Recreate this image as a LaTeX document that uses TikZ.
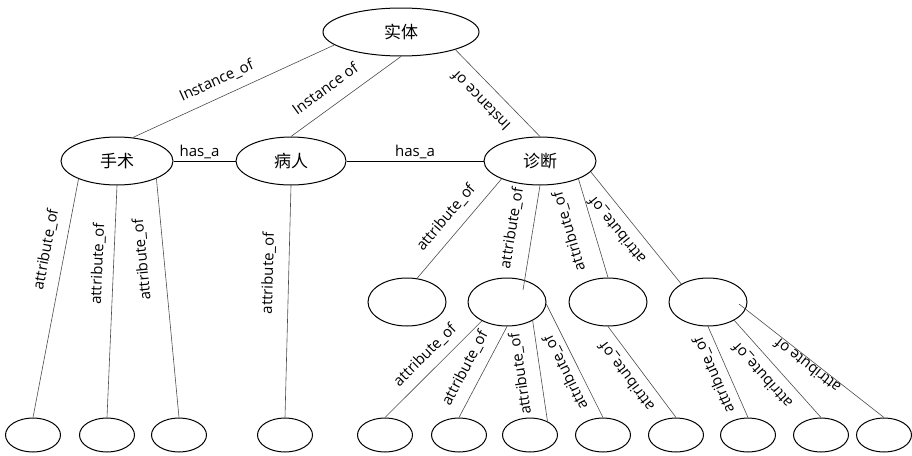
\documentclass[tikz,border=0pt]{standalone}
\usepackage{fontspec}
\setmainfont{Open Sans}
\newfontfamily\cjk{Noto Sans CJK SC}
\usetikzlibrary{shapes.geometric}
\tikzset{
  big/.style={ellipse, draw=black, line width=1pt, inner sep=0pt, minimum width=112pt, minimum height=48pt, font=\cjk\fontsize{17}{20}\selectfont},
  mid/.style={ellipse, draw=black, line width=1pt, inner sep=0pt, minimum width=78pt, minimum height=48pt},
  leaf/.style={ellipse, draw=black, line width=1pt, inner sep=0pt, minimum width=55pt, minimum height=34pt},
  edge/.style={draw=black!70, line width=0.6pt},
  rel/.style={draw=black, line width=0.9pt},
  lab/.style={sloped, allow upside down, inner sep=0pt, anchor=center, text=black, font=\fontsize{15}{18}\selectfont}
}
\begin{document}
\begin{tikzpicture}[x=1pt, y=-1pt]
\useasboundingbox (0,0) rectangle (912,455);
% top levels
\node[big, minimum width=156pt] (shiti) at (401,32) {实体};
\node[big] (shoushu) at (117,161) {手术};
\node[big, minimum width=110pt] (bingren) at (291,161) {病人};
\node[big] (zhenduan) at (540,161) {诊断};
% middle level
\node[mid] (m1) at (407,302) {};
\node[mid] (m2) at (507,302) {};
\node[mid] (m3) at (608,302) {};
\node[mid] (m4) at (708,302) {};
% leaves
\node[leaf] (b1) at (33,435) {};
\node[leaf] (b2) at (107,435) {};
\node[leaf] (b3) at (179,435) {};
\node[leaf] (b4) at (285,435) {};
\node[leaf] (b5) at (385,435) {};
\node[leaf] (b6) at (459,435) {};
\node[leaf] (b7) at (530,435) {};
\node[leaf] (b8) at (603,435) {};
\node[leaf] (b9) at (676,435) {};
\node[leaf] (b10) at (748,435) {};
\node[leaf] (b11) at (821,435) {};
\node[leaf] (b12) at (884,435) {};
% instance edges
\draw[edge] (shoushu.56) -- node[lab,pos=.45,yshift=16.5pt]{Instance\_of} (shiti.191);
\draw[edge] (bingren.north) -- node[lab,pos=.41,yshift=19pt]{Instance of} (shiti.south);
\draw[edge] (zhenduan.north) -- node[lab,pos=.55,yshift=17.8pt]{Instance of} (shiti.-18);
% has_a
\draw[rel] (shoushu.east) -- node[lab,pos=.42,yshift=9pt]{has\_a} (bingren.west);
\draw[rel] (bingren.east) -- node[lab,pos=.5,yshift=9pt]{has\_a} (zhenduan.west);
% shoushu / bingren attributes
\draw[edge] (b1.north) -- node[lab,pos=.69,yshift=18.6pt]{attribute\_of} (shoushu.205);
\draw[edge] (b2.north) -- node[lab,pos=.66,yshift=15.6pt]{attribute\_of} (shoushu.south);
\draw[edge] (b3.north) -- node[lab,pos=.67,yshift=21.8pt]{attribute\_of} (shoushu.-24);
\draw[edge] (b4.north) -- node[lab,pos=.62,yshift=20.3pt]{attribute\_of} (bingren.south);
% zhenduan attributes
\draw[edge] (m1.67) -- node[lab,pos=.5,yshift=17.4pt]{attribute\_of} (zhenduan.205);
\draw[edge] ([xshift=16pt,yshift=12pt]m2.center) -- node[lab,pos=.56,yshift=20.8pt]{attribute\_of} (zhenduan.south);
\draw[edge] (m3.north) -- node[lab,pos=.54,yshift=23.9pt]{attribute\_of} (zhenduan.-25);
\draw[edge] (m4.146) -- node[lab,pos=.57,yshift=15.8pt]{attribute\_of} (zhenduan.-12);
% m2 attributes
\draw[edge] (b5.north) -- node[lab,pos=.53,yshift=15.9pt]{attribute\_of} (m2.217);
\draw[edge] (b6.north) -- node[lab,pos=.45,yshift=17.5pt]{attribute\_of} (m2.south);
\draw[edge] (b7.38) -- node[lab,pos=.5,yshift=19.7pt]{attribute\_of} (m2.-36);
\draw[edge] (b8.north) -- node[lab,pos=.45,yshift=13.2pt]{attribute\_of} (m2.-3);
% m3 attributes
\draw[edge] (b9.north) -- node[lab,pos=.55,yshift=14.6pt]{attribute\_of} (m3.south);
% m4 attributes
\draw[edge] (b10.north) -- node[lab,pos=.53,yshift=14pt]{attribute\_of} (m4.south);
\draw[edge] (b11.north) -- node[lab,pos=.54,yshift=15.3pt]{attribute\_of} (m4.-35);
\draw[edge] (b12.north) -- node[lab,pos=.5,yshift=6.8pt]{attribute of} ([xshift=31pt,yshift=-2pt]m4.center);
\end{tikzpicture}
\end{document}
